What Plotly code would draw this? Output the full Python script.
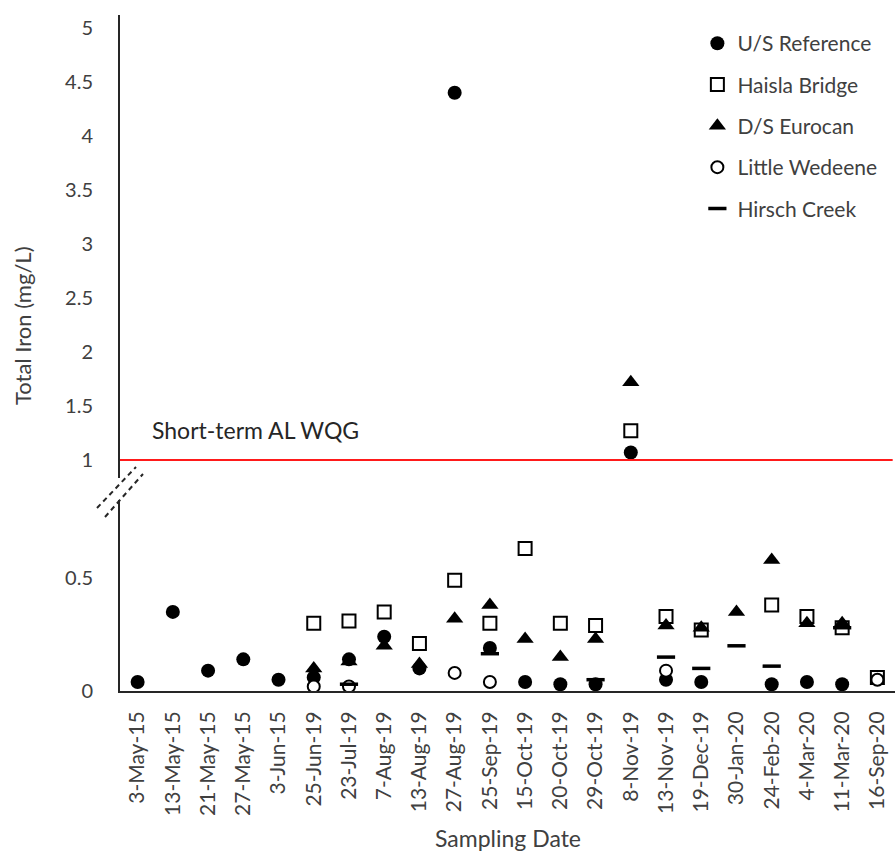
import plotly.graph_objects as go

dates = ["3-May-15", "13-May-15", "21-May-15", "27-May-15", "3-Jun-15", "25-Jun-19",
         "23-Jul-19", "7-Aug-19", "13-Aug-19", "27-Aug-19", "25-Sep-19", "15-Oct-19",
         "20-Oct-19", "29-Oct-19", "8-Nov-19", "13-Nov-19", "19-Dec-19", "30-Jan-20",
         "24-Feb-20", "4-Mar-20", "11-Mar-20", "16-Sep-20"]

us_reference = [0.04, 0.35, 0.09, 0.14, 0.05, 0.06, 0.14, 0.24, 0.10, 4.40, 0.19, 0.04,
                0.03, 0.03, 1.07, 0.05, 0.04, None, 0.03, 0.04, 0.03, None]
haisla_bridge = [None, None, None, None, None, 0.30, 0.31, 0.35, 0.21, 0.49, 0.30, 0.63,
                 0.30, 0.29, 1.27, 0.33, 0.27, None, 0.38, 0.33, 0.28, 0.06]
ds_eurocan = [None, None, None, None, None, 0.10, 0.13, 0.20, 0.12, 0.32, 0.38, 0.23,
              0.15, 0.23, 1.72, 0.29, 0.28, 0.35, 0.58, 0.30, 0.30, None]
little_wedeene = [None, None, None, None, None, 0.02, 0.02, None, None, 0.08, 0.04, None,
                  None, None, None, 0.09, None, None, None, None, None, 0.05]
hirsch_creek = [None, None, None, None, None, None, 0.03, None, None, None, 0.165, None,
                None, 0.05, None, 0.15, 0.10, 0.20, 0.11, None, 0.28, None]

guideline_value = 1.0
guideline_label = "Short-term AL WQG"
lower_ticks = [0, 0.5]
upper_ticks = [1, 1.5, 2, 2.5, 3, 3.5, 4, 4.5, 5]
break_value = 0.85

FONT = "Lato, 'Open Sans', sans-serif"
TXT = "#404040"

series = [
    ("U/S Reference", us_reference, dict(symbol="circle", size=14, color="black",
                                         line=dict(width=0))),
    ("Haisla Bridge", haisla_bridge, dict(symbol="square-open", size=13, color="black",
                                          line=dict(width=2, color="black"))),
    ("D/S Eurocan", ds_eurocan, dict(symbol="triangle-up", size=15, color="black",
                                     line=dict(width=0))),
    ("Little Wedeene", little_wedeene, dict(symbol="circle", size=12, color="white",
                                            line=dict(width=2, color="black"))),
    ("Hirsch Creek", hirsch_creek, dict(symbol="line-ew", size=13, color="black",
                                        line=dict(width=3.5, color="black"))),
]

fig = go.Figure()
for name, vals, marker in series:
    lo_x = [d for d, v in zip(dates, vals) if v is not None and v < break_value]
    lo_y = [v for v in vals if v is not None and v < break_value]
    hi_x = [d for d, v in zip(dates, vals) if v is not None and v >= break_value]
    hi_y = [v for v in vals if v is not None and v >= break_value]
    fig.add_trace(go.Scatter(x=lo_x, y=lo_y, mode="markers", name=name, marker=marker,
                             xaxis="x", yaxis="y", legendgroup=name, showlegend=True))
    fig.add_trace(go.Scatter(x=hi_x, y=hi_y, mode="markers", name=name, marker=marker,
                             xaxis="x", yaxis="y2", legendgroup=name, showlegend=False))

W, H = 895, 855
ML, MR, MT, MB = 120, 0, 15, 164
ph = H - MT - MB
pw = W - ML - MR

lower_top_px = 500
upper_bot_px = 478
lower_dom_top = (H - MB - lower_top_px) / ph
upper_dom_bot = (H - MB - upper_bot_px) / ph

axis_common = dict(showgrid=False, zeroline=False, showline=True, linecolor="#262626",
                   linewidth=2, ticks="", automargin=False,
                   tickfont=dict(family=FONT, size=20, color=TXT))

fig.update_layout(
    width=W, height=H,
    margin=dict(l=ML, r=MR, t=MT, b=MB),
    paper_bgcolor="white", plot_bgcolor="white",
    font=dict(family=FONT, color=TXT),
    xaxis=dict(type="category", categoryorder="array", categoryarray=dates,
               range=[-0.5, len(dates) - 0.5], tickangle=-90, anchor="y",
               showgrid=False, zeroline=False, showline=True, linecolor="#262626",
               linewidth=2, ticks="", ticklabelstandoff=10, automargin=False,
               tickfont=dict(family=FONT, size=21, color=TXT)),
    yaxis=dict(domain=[0, lower_dom_top], range=[0, (691 - lower_top_px) / 226],
               tickvals=lower_ticks, ticktext=[str(t) for t in lower_ticks],
               ticklabelstandoff=21, anchor="x", **axis_common),
    yaxis2=dict(domain=[upper_dom_bot, 1],
                range=[1 - (upper_bot_px - 460) / 108, 1 + (460 - MT) / 108],
                tickvals=upper_ticks, ticktext=[f"{t:g}" for t in upper_ticks],
                ticklabelstandoff=21, anchor="x", **axis_common),
    legend=dict(x=0.745, y=0.988, xanchor="left", yanchor="top", bgcolor="rgba(0,0,0,0)",
                font=dict(family=FONT, size=21, color=TXT), tracegroupgap=11,
                itemwidth=30),
    showlegend=True,
)

# guideline
fig.add_shape(type="line", xref="paper", yref="y2", x0=0, x1=0.997,
              y0=guideline_value, y1=guideline_value,
              line=dict(color="#ff1a1a", width=2))

# axis titles
fig.add_annotation(text="Total Iron (mg/L)", xref="paper", yref="paper",
                   x=(22 - ML) / pw, y=(H - MB - 325) / ph, textangle=-90,
                   xanchor="center", yanchor="middle",
                   showarrow=False, font=dict(family=FONT, size=22, color=TXT))
fig.add_annotation(text="Sampling Date", xref="paper", yref="paper",
                   x=(508 - ML) / pw, y=-(838 - (H - MB)) / ph,
                   xanchor="center", yanchor="middle",
                   showarrow=False, font=dict(family=FONT, size=23, color=TXT))
# guideline label
fig.add_annotation(text=guideline_label, xref="paper", yref="y2",
                   x=(150 - ML) / pw, y=guideline_value + 0.28,
                   xanchor="left", yanchor="middle", showarrow=False,
                   font=dict(family=FONT, size=23, color="#262626"))

# axis break marks
def px_to_paper(px, py):
    return (px - ML) / pw, (H - MB - py) / ph

for (x0, y0, x1, y1) in [(97, 508, 136, 467), (105, 517, 143, 474)]:
    a = px_to_paper(x0, y0)
    b = px_to_paper(x1, y1)
    fig.add_shape(type="line", xref="paper", yref="paper", x0=a[0], y0=a[1], x1=b[0], y1=b[1],
                  line=dict(color="#262626", width=2, dash="5px,4px"))

fig.write_html("out.html", config={"displayModeBar": False},
               post_script="document.body.style.margin='0';"
                           "document.body.style.overflow='hidden';")
